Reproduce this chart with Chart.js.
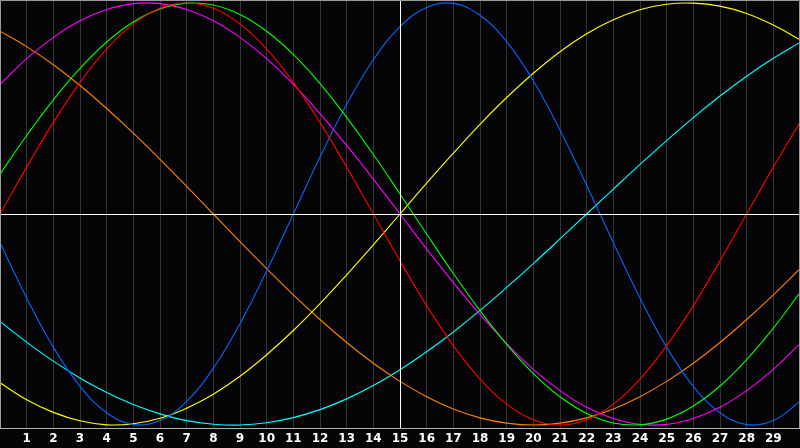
<!DOCTYPE html>
<html>
<head>
<meta charset="utf-8">
<script src="https://cdn.jsdelivr.net/npm/chart.js@4.4.1/dist/chart.umd.min.js"></script>
<style>
  html, body { margin: 0; padding: 0; background: #050508; }
  #c { display: block; }
</style>
</head>
<body>
<canvas id="c" width="800" height="448"></canvas>
<script>
// Day index along the x axis
const days = [0,1,2,3,4,5,6,7,8,9,10,11,12,13,14,15,16,17,18,19,20,21,22,23,24,25,26,27,28,29,30];
// Tick labels shown under the plot
const tickLabels = ['1','2','3','4','5','6','7','8','9','10','11','12','13','14','15','16','17','18','19','20','21','22','23','24','25','26','27','28','29'];

// Series values (one value per day, -1 .. 1)
const redSeries = [0,0.222,0.434,0.624,0.782,0.901,0.975,1,0.975,0.901,0.782,0.624,0.434,0.222,0,-0.222,-0.434,-0.624,-0.782,-0.901,-0.975,-1,-0.975,-0.901,-0.782,-0.624,-0.434,-0.222,0,0.222,0.434];
const greenSeries = [0.189,0.372,0.541,0.690,0.815,0.910,0.972,0.999,0.990,0.945,0.866,0.756,0.618,0.458,0.282,0.095,-0.095,-0.282,-0.458,-0.618,-0.756,-0.866,-0.945,-0.990,-0.999,-0.972,-0.910,-0.815,-0.690,-0.541,-0.372];
const blueSeries = [-0.136,-0.398,-0.631,-0.817,-0.942,-0.998,-0.979,-0.888,-0.731,-0.520,-0.270,0,0.270,0.520,0.731,0.888,0.979,0.998,0.942,0.817,0.631,0.398,0.136,-0.136,-0.398,-0.631,-0.817,-0.942,-0.998,-0.979,-0.888];
const magentaSeries = [0.614,0.736,0.837,0.916,0.969,0.997,0.997,0.969,0.916,0.837,0.736,0.614,0.476,0.325,0.165,0,-0.165,-0.325,-0.476,-0.614,-0.736,-0.837,-0.916,-0.969,-0.997,-0.997,-0.969,-0.916,-0.837,-0.736,-0.614];
const yellowSeries = [-0.800,-0.880,-0.940,-0.980,-0.999,-0.994,-0.968,-0.920,-0.854,-0.769,-0.667,-0.552,-0.425,-0.288,-0.146,0,0.146,0.288,0.425,0.552,0.667,0.769,0.854,0.920,0.968,0.994,0.999,0.985,0.950,0.895,0.825];
const orangeSeries = [0.866,0.793,0.707,0.609,0.5,0.383,0.259,0.131,0,-0.131,-0.259,-0.383,-0.5,-0.609,-0.707,-0.793,-0.866,-0.924,-0.966,-0.991,-1,-0.991,-0.966,-0.924,-0.866,-0.793,-0.707,-0.609,-0.5,-0.383,-0.259];
const cyanSeries = [-0.509,-0.607,-0.697,-0.777,-0.846,-0.903,-0.947,-0.979,-0.996,-1.0,-0.989,-0.965,-0.927,-0.876,-0.813,-0.738,-0.653,-0.559,-0.457,-0.348,-0.235,-0.118,0,0.118,0.235,0.348,0.457,0.559,0.653,0.738,0.813];

// Reference cross lines
const crossDay = 15;
const baselineValue = 0;

const seriesList = [
  { values: redSeries, color: '#ff0000' },
  { values: greenSeries, color: '#00ff00' },
  { values: magentaSeries, color: '#ff00ff' },
  { values: blueSeries, color: '#0a64ff' },
  { values: yellowSeries, color: '#ffff00' },
  { values: orangeSeries, color: '#ff8000' },
  { values: cyanSeries, color: '#00ffff' }
];

const datasets = seriesList.map(s => ({
  data: days.map((d, i) => ({ x: d, y: s.values[i] })),
  borderColor: s.color,
  borderWidth: 1.1,
  pointRadius: 0,
  fill: false,
  tension: 0.4
}));

const framePlugin = {
  id: 'frame',
  afterDatasetsDraw(chart) {
    const { ctx, chartArea, scales } = chart;
    ctx.save();
    ctx.strokeStyle = '#ffffff';
    ctx.lineWidth = 1;
    const xp = Math.round(scales.x.getPixelForValue(crossDay)) + 0.5;
    const yp = Math.round(scales.y.getPixelForValue(baselineValue)) + 0.5;
    ctx.beginPath();
    ctx.moveTo(xp, chartArea.top);
    ctx.lineTo(xp, chartArea.bottom);
    ctx.moveTo(chartArea.left, yp);
    ctx.lineTo(chartArea.right, yp);
    ctx.stroke();
    ctx.strokeStyle = '#9a9a9a';
    ctx.beginPath();
    ctx.moveTo(chartArea.left + 0.5, chartArea.bottom);
    ctx.lineTo(chartArea.left + 0.5, chartArea.top + 0.5);
    ctx.lineTo(chartArea.right - 0.5, chartArea.top + 0.5);
    ctx.lineTo(chartArea.right - 0.5, chartArea.bottom);
    ctx.stroke();
    ctx.restore();
  }
};

new Chart(document.getElementById('c'), {
  type: 'line',
  data: { datasets },
  options: {
    responsive: false,
    animation: false,
    devicePixelRatio: 1,
    layout: { padding: 0 },
    plugins: { legend: { display: false }, tooltip: { enabled: false } },
    scales: {
      x: {
        type: 'linear',
        min: 0,
        max: 30,
        afterFit(scale) { scale.height = 20; scale.paddingLeft = 0; scale.paddingRight = 0; },
        grid: { color: '#343434', lineWidth: 1, drawTicks: false },
        border: { color: '#b0b0b0', width: 1 },
        ticks: {
          stepSize: 1,
          autoSkip: false,
          maxRotation: 0,
          padding: 4,
          color: '#ffffff',
          font: { family: 'DejaVu Sans', size: 12, weight: 'bold' },
          callback: (v) => tickLabels.includes(String(v)) ? String(v) : ''
        }
      },
      y: {
        display: false,
        min: -1.014,
        max: 1.014
      }
    }
  },
  plugins: [framePlugin]
});
</script>
</body>
</html>
